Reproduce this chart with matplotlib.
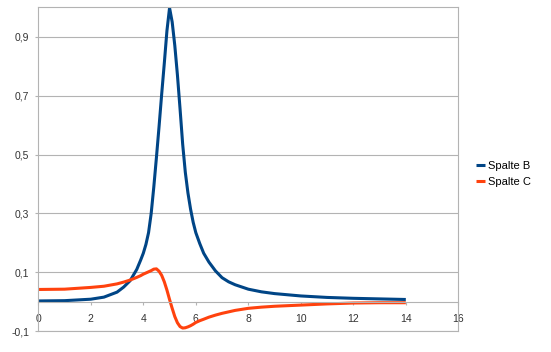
import matplotlib
matplotlib.use("Agg")
import matplotlib.pyplot as plt
from matplotlib.ticker import FixedLocator, FuncFormatter

# values
x_vals = [0, 1, 2, 2.5, 3, 3.25, 3.5, 3.75, 3.9, 4.0, 4.1, 4.2, 4.3, 4.4, 4.5,
          4.6, 4.7, 4.8, 4.9, 5.0, 5.1, 5.2, 5.3, 5.4, 5.5, 5.6, 5.7, 5.8, 5.9,
          6.0, 6.15, 6.3, 6.5, 6.75, 7.0, 7.25, 7.5, 8, 8.5, 9, 10, 11, 12, 13, 14]
spalte_b = [0.003, 0.004, 0.009, 0.016, 0.033, 0.05, 0.072, 0.11, 0.142, 0.165,
            0.195, 0.235, 0.30, 0.39, 0.49, 0.595, 0.705, 0.81, 0.92, 0.998,
            0.95, 0.87, 0.77, 0.655, 0.535, 0.44, 0.37, 0.315, 0.27, 0.235,
            0.198, 0.165, 0.135, 0.105, 0.082, 0.068, 0.058, 0.043, 0.034, 0.028,
            0.02, 0.015, 0.012, 0.01, 0.008]
spalte_c = [0.042, 0.043, 0.049, 0.053, 0.061, 0.067, 0.074, 0.083, 0.089, 0.094,
            0.098, 0.102, 0.106, 0.111, 0.112, 0.104, 0.09, 0.068, 0.04, 0.008,
            -0.022, -0.05, -0.071, -0.084, -0.089, -0.088, -0.085, -0.081, -0.076,
            -0.07, -0.064, -0.059, -0.052, -0.045, -0.039, -0.034, -0.029, -0.022,
            -0.018, -0.015, -0.011, -0.007, -0.004, -0.003, -0.003]
series_labels = ["Spalte B", "Spalte C"]
series_colors = ["#004586", "#ff420e"]
x_ticks = [0, 2, 4, 6, 8, 10, 12, 14, 16]
y_ticks = [-0.1, 0.1, 0.3, 0.5, 0.7, 0.9]

plt.rcParams["font.family"] = ["Liberation Sans", "DejaVu Sans"]

fig = plt.figure(figsize=(5.51, 3.52), dpi=100)
ax = fig.add_axes([0.0695, 0.0588, 0.7623, 0.9205])

for ys, lab, col in zip([spalte_b, spalte_c], series_labels, series_colors):
    ax.plot(x_vals, ys, color=col, linewidth=2.2, label=lab, solid_capstyle="butt")

ax.set_xlim(0, 16)
ax.set_ylim(-0.1, 1.0)
ax.xaxis.set_major_locator(FixedLocator(x_ticks))
ax.yaxis.set_major_locator(FixedLocator(y_ticks))
ax.yaxis.set_major_formatter(FuncFormatter(lambda v, p: f"{v:.1f}".replace(".", ",")))

# Aesthetics
grid_col = "#b3b3b3"
ax.grid(axis="y", color=grid_col, linewidth=0.8)
ax.set_axisbelow(True)
for s in ["left", "right", "top", "bottom"]:
    ax.spines[s].set_color(grid_col)
    ax.spines[s].set_linewidth(0.8)
ax.spines["bottom"].set_position(("data", 0))
ax.axhline(-0.1, color=grid_col, linewidth=0.8, clip_on=False, zorder=0)
ax.tick_params(axis="both", colors=grid_col, labelcolor="#333333", labelsize=7.5,
               length=2.5, width=0.8, direction="out")
ax.tick_params(axis="x", pad=6)
ax.tick_params(axis="y", pad=4)

ax.legend(loc="center left", bbox_to_anchor=(476 / 551, 1 - 174 / 352),
          bbox_transform=fig.transFigure, frameon=False, fontsize=8,
          handlelength=0.8, handletextpad=0.25, labelspacing=0.55,
          borderpad=0, borderaxespad=0)

fig.savefig("out.png", dpi=100)
